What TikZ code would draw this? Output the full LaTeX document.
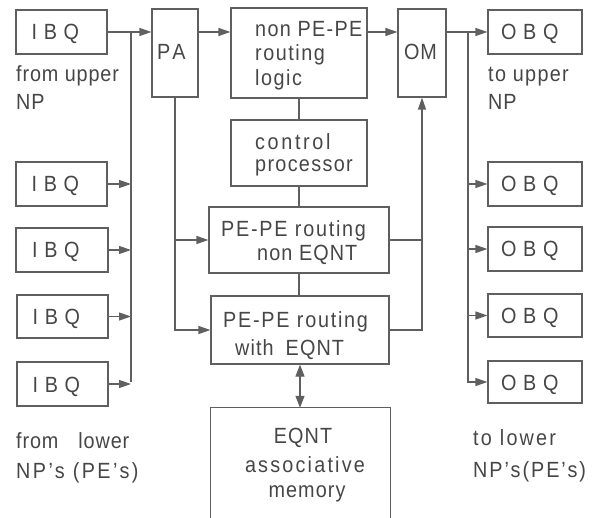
\documentclass[tikz,border=0pt]{standalone}
\usepackage{fontspec}
\setmainfont{Liberation Sans}[LetterSpace=4,FakeStretch=0.9]
\newfontfamily\widefont{Liberation Sans}[LetterSpace=30,FakeStretch=0.9]
\usetikzlibrary{arrows.meta,fit}
\definecolor{ink}{RGB}{95,95,95}
\definecolor{txtc}{RGB}{70,70,70}
\begin{document}
\begin{tikzpicture}[x=1pt,y=-1pt,
  box/.style={draw=ink, line width=1.2pt, inner sep=0pt, rectangle},
  txt/.style={text=txtc, font=\fontsize{22}{24}\selectfont, inner sep=0pt},
  ls/.style={font=\fontsize{22}{24}\selectfont\addfontfeature{LetterSpace=#1}},
  qtxt/.style={text=txtc, font=\fontsize{22}{24}\widefont, inner sep=0pt},
  ln/.style={draw=ink, line width=1.2pt},
  arr/.style={ln, -{Triangle[length=12pt,width=8pt]}},
  darr/.style={ln, {Triangle[length=12pt,width=9pt]}-{Triangle[length=12pt,width=9pt]}}]
\useasboundingbox (0,0) rectangle (599,518);

% input queues
\node[box, fit={(16,10) (107,54)}] (ibq1) {};
\node[box, fit={(16,162) (107,206)}] (ibq2) {};
\node[box, fit={(16,228) (108,272)}] (ibq3) {};
\node[box, fit={(17,295) (108,338)}] (ibq4) {};
\node[box, fit={(17,362) (108,406)}] (ibq5) {};
\foreach \n in {1,...,5}
  \node[qtxt, anchor=base west] (ibq\n-t) at ([xshift=-30pt,yshift=-8pt]ibq\n.center) {IBQ};

% output queues
\node[box, fit={(488,10) (582,54)}] (obq1) {};
\node[box, fit={(488,162) (582,206)}] (obq2) {};
\node[box, fit={(488,227) (582,271)}] (obq3) {};
\node[box, fit={(488,294) (582,337)}] (obq4) {};
\node[box, fit={(488,361) (582,403)}] (obq5) {};
\foreach \n in {1,...,5}
  \node[qtxt, anchor=base west] (obq\n-t) at ([xshift=-34pt,yshift=-8pt]obq\n.center) {OBQ};

% central blocks
\node[box, fit={(152,9) (198,97)}] (pa) {};
\node[txt, ls=16, anchor=base west] (pa-t) at (157,60) {PA};
\node[box, fit={(398,9) (446,97)}] (om) {};
\node[txt, anchor=base west] (om-t) at (404,60) {OM};
\node[box, fit={(231,8) (367,98)}] (non) {};
\node[box, fit={(231,120) (367,186)}] (cp) {};
\node[box, fit={(209,207) (389,273)}] (pen) {};
\node[box, fit={(211,296) (389,364)}] (pew) {};
\node[inner sep=0pt, fit={(211,408) (390,518)}] (mem) {};
\draw[ln] (mem.south west) -- (mem.north west) -- (mem.north east) -- (mem.south east);

% texts inside blocks
\node[txt, ls=6, anchor=base west] (non1) at (255,37) {non PE-PE};
\node[txt, ls=7, anchor=base west] (non2) at (255,61) {routing};
\node[txt, ls=7, anchor=base west] (non3) at (255,86) {logic};
\node[txt, ls=12, anchor=base west] (cp1) at (255,150) {control};
\node[txt, ls=6, anchor=base west] (cp2) at (255,172) {processor};
\node[txt, ls=8, anchor=base west] (pen1) at (221,237) {PE-PE routing};
\node[txt, ls=5, anchor=base west] (pen2) at (257,261) {non EQNT};
\node[txt, ls=8, anchor=base west] (pew1) at (223,327) {PE-PE routing};
\node[txt, ls=5, anchor=base west] (pew2) at (235,355) {with\hspace{12pt}EQNT};
\node[txt, ls=5, anchor=base] (mem1) at (303,443) {EQNT};
\node[txt, ls=10, anchor=base] (mem2) at (305,472) {associative};
\node[txt, ls=5, anchor=base] (mem3) at (307,497) {memory};

% side labels
\node[txt, anchor=base west] (fu1) at (16,82) {from upper};
\node[txt, anchor=base west] (fu2) at (16,110) {NP};
\node[txt, ls=6, anchor=base west] (tu1) at (488,82) {to upper};
\node[txt, anchor=base west] (tu2) at (488,110) {NP};
\node[txt, anchor=base west] (fl1) at (16,448) {from\hspace{20pt}lower};
\node[txt, ls=11, anchor=base west] (fl2) at (16,478) {NP’s (PE’s)};
\node[txt, ls=10, anchor=base west] (tl1) at (473,445) {to\hspace{8pt}lower};
\node[txt, ls=9, anchor=base west] (tl2) at (473,477) {NP’s(PE’s)};

% input bus
\coordinate (ibus-top) at (131,32);
\coordinate (ibus-bot) at (131,382);
\draw[arr] (ibq1.east |- ibus-top) -- (ibus-top -| pa.west);
\draw[ln] (ibus-top) -- (ibus-bot);
\draw[arr] (ibq2.east) -- (ibq2.east -| ibus-top);
\draw[arr] (ibq3.east) -- (ibq3.east -| ibus-top);
\draw[arr] (ibq4.east) -- (ibq4.east -| ibus-top);
\draw[arr] (ibq5.east) -- (ibq5.east -| ibus-top);

% PA connections
\draw[arr] (ibus-top -| pa.east) -- (ibus-top -| non.west);
\draw[arr] (pa.south) |- (pew.west);
\draw[arr] (pa.south |- pen.west) -- (pen.west);

% central column
\draw[ln] (non.south) -- (non.south |- cp.north);
\draw[ln] (cp.south) -- (cp.south |- pen.north);
\draw[ln] (pen.south) -- (pen.south |- pew.north);
\draw[darr] (pew.south) -- (pew.south |- mem.north);

% to OM
\draw[arr] (ibus-top -| non.east) -- (ibus-top -| om.west);
\draw[arr] (pew.east) -| (om.south);
\draw[ln] (pen.east) -- (pen.east -| om.south);

% output bus
\coordinate (obus-top) at (468,32);
\draw[arr] (obus-top -| om.east) -- (obus-top -| obq1.west);
\draw[arr] (obus-top) |- (obq5.west);
\draw[arr] (obq2.west -| obus-top) -- (obq2.west);
\draw[arr] (obq3.west -| obus-top) -- (obq3.west);
\draw[arr] (obq4.west -| obus-top) -- (obq4.west);
\end{tikzpicture}
\end{document}
